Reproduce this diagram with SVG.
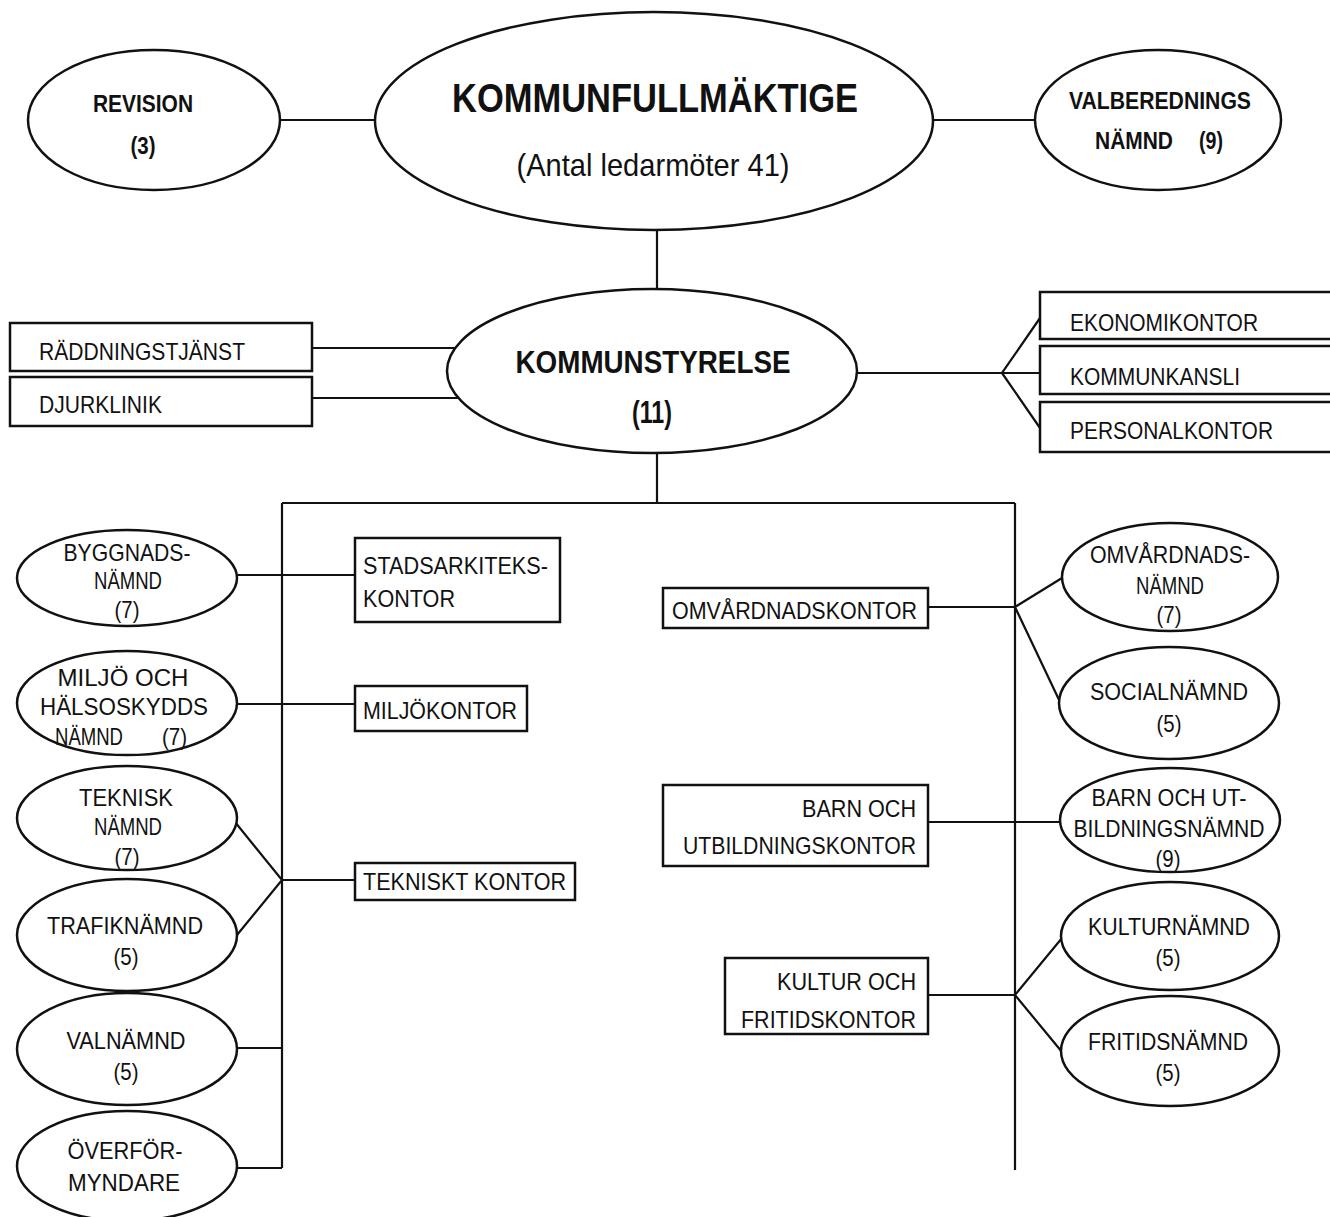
<svg xmlns="http://www.w3.org/2000/svg" width="1330" height="1217" viewBox="0 0 1330 1217">
<style>
.n{fill:#fff;stroke:#111;stroke-width:2.5}
.c{fill:none;stroke:#111;stroke-width:2.2}
text{font-family:"Liberation Sans",Arial,sans-serif;font-size:24px;fill:#111}
.b{font-weight:bold}
.m{text-anchor:middle}
.e{text-anchor:end}
</style>
<rect width="1330" height="1217" fill="#fff"/>
<g id="connectors">
<path class="c" d="M280 120H375M932 120H1035M657 230V290M312 348H458M312 398H458M856 373H1002L1040 318M1002 373H1040M1002 373L1040 428M657 453V503M282 503H1015M282 503V1168M1015 503V1170M237 575H355M237 704H355M235 822L282 880L237 935M282 880H355M237 1048H282M237 1168H282M928 607H1015L1062 578M1015 607L1061 704M928 822H1060M928 995H1015L1062 938M1015 995L1062 1052"/>
</g>
<g id="revision"><ellipse class="n" cx="154" cy="120" rx="126" ry="70"/><text class="b m" x="143" y="112" textLength="100" lengthAdjust="spacingAndGlyphs">REVISION</text><text class="b m" x="143" y="154" textLength="25" lengthAdjust="spacingAndGlyphs">(3)</text></g>
<g id="kommunfullmaktige"><ellipse class="n" cx="654" cy="121" rx="279" ry="109"/><text class="b m" x="655" y="112" style="font-size:40px" textLength="406" lengthAdjust="spacingAndGlyphs">KOMMUNFULLMÄKTIGE</text><text class="m" x="653" y="176" style="font-size:32px" textLength="273" lengthAdjust="spacingAndGlyphs">(Antal ledarmöter 41)</text></g>
<g id="valberedning"><ellipse class="n" cx="1158" cy="120" rx="123" ry="70"/><text class="b m" x="1160" y="109" textLength="182" lengthAdjust="spacingAndGlyphs">VALBEREDNINGS</text><text class="b" y="149"><tspan x="1095" textLength="78" lengthAdjust="spacingAndGlyphs">NÄMND</tspan><tspan x="1199" textLength="24" lengthAdjust="spacingAndGlyphs">(9)</tspan></text></g>
<g id="kommunstyrelse"><ellipse class="n" cx="652" cy="371" rx="205" ry="82"/><text class="b m" x="653" y="373" style="font-size:32px" textLength="275" lengthAdjust="spacingAndGlyphs">KOMMUNSTYRELSE</text><text class="b m" x="652" y="423" style="font-size:32px" textLength="40" lengthAdjust="spacingAndGlyphs">(11)</text></g>
<g id="raddningstjanst"><rect class="n" x="10" y="323" width="302" height="48"/><text x="39" y="360" textLength="206" lengthAdjust="spacingAndGlyphs">RÄDDNINGSTJÄNST</text></g>
<g id="djurklinik"><rect class="n" x="10" y="377" width="302" height="49"/><text x="39" y="413" textLength="123" lengthAdjust="spacingAndGlyphs">DJURKLINIK</text></g>
<g id="ekonomikontor"><rect class="n" x="1040" y="292" width="300" height="47"/><text x="1070" y="331" textLength="188" lengthAdjust="spacingAndGlyphs">EKONOMIKONTOR</text></g>
<g id="kommunkansli"><rect class="n" x="1040" y="346" width="300" height="48"/><text x="1070" y="385" textLength="170" lengthAdjust="spacingAndGlyphs">KOMMUNKANSLI</text></g>
<g id="personalkontor"><rect class="n" x="1040" y="402" width="300" height="50"/><text x="1070" y="439" textLength="203" lengthAdjust="spacingAndGlyphs">PERSONALKONTOR</text></g>
<g id="byggnadsnamnd"><ellipse class="n" cx="127" cy="578" rx="110" ry="48"/><text class="m" x="127" y="561" textLength="127" lengthAdjust="spacingAndGlyphs">BYGGNADS-</text><text class="m" x="128" y="589" textLength="68" lengthAdjust="spacingAndGlyphs">NÄMND</text><text class="m" x="127" y="618" textLength="25" lengthAdjust="spacingAndGlyphs">(7)</text></g>
<g id="stadsarkitekskontor"><rect class="n" x="355" y="538" width="205" height="84"/><text x="363" y="574" textLength="185" lengthAdjust="spacingAndGlyphs">STADSARKITEKS-</text><text x="363" y="607" textLength="92" lengthAdjust="spacingAndGlyphs">KONTOR</text></g>
<g id="miljonamnd"><ellipse class="n" cx="127" cy="703" rx="110" ry="52"/><text class="m" x="123" y="686" textLength="131" lengthAdjust="spacingAndGlyphs">MILJÖ OCH</text><text class="m" x="124" y="715" textLength="168" lengthAdjust="spacingAndGlyphs">HÄLSOSKYDDS</text><text y="745"><tspan x="55" textLength="68" lengthAdjust="spacingAndGlyphs">NÄMND</tspan><tspan x="162" textLength="25" lengthAdjust="spacingAndGlyphs">(7)</tspan></text></g>
<g id="miljokontor"><rect class="n" x="355" y="686" width="172" height="45"/><text x="363" y="719" textLength="154" lengthAdjust="spacingAndGlyphs">MILJÖKONTOR</text></g>
<g id="tekniskNamnd"><ellipse class="n" cx="127" cy="818" rx="110" ry="52"/><text class="m" x="126" y="806" textLength="94" lengthAdjust="spacingAndGlyphs">TEKNISK</text><text class="m" x="128" y="835" textLength="68" lengthAdjust="spacingAndGlyphs">NÄMND</text><text class="m" x="127" y="865" textLength="25" lengthAdjust="spacingAndGlyphs">(7)</text></g>
<g id="trafiknamnd"><ellipse class="n" cx="127" cy="935" rx="110" ry="56"/><text class="m" x="125" y="934" textLength="156" lengthAdjust="spacingAndGlyphs">TRAFIKNÄMND</text><text class="m" x="126" y="965" textLength="25" lengthAdjust="spacingAndGlyphs">(5)</text></g>
<g id="tekniskt_kontor"><rect class="n" x="355" y="863" width="220" height="37"/><text x="363" y="890" textLength="203" lengthAdjust="spacingAndGlyphs">TEKNISKT KONTOR</text></g>
<g id="valnamnd"><ellipse class="n" cx="127" cy="1049" rx="110" ry="56"/><text class="m" x="126" y="1049" textLength="119" lengthAdjust="spacingAndGlyphs">VALNÄMND</text><text class="m" x="126" y="1080" textLength="25" lengthAdjust="spacingAndGlyphs">(5)</text></g>
<g id="overformyndare"><ellipse class="n" cx="127" cy="1166" rx="110" ry="55"/><text class="m" x="125" y="1159" textLength="115" lengthAdjust="spacingAndGlyphs">ÖVERFÖR-</text><text class="m" x="124" y="1191" textLength="112" lengthAdjust="spacingAndGlyphs">MYNDARE</text></g>
<g id="omvardnadskontor"><rect class="n" x="663" y="588" width="265" height="40"/><text x="672" y="619" textLength="245" lengthAdjust="spacingAndGlyphs">OMVÅRDNADSKONTOR</text></g>
<g id="omvardnadsnamnd"><ellipse class="n" cx="1170" cy="577" rx="108" ry="54"/><text class="m" x="1170" y="563" textLength="160" lengthAdjust="spacingAndGlyphs">OMVÅRDNADS-</text><text class="m" x="1170" y="594" textLength="68" lengthAdjust="spacingAndGlyphs">NÄMND</text><text class="m" x="1169" y="623" textLength="25" lengthAdjust="spacingAndGlyphs">(7)</text></g>
<g id="socialnamnd"><ellipse class="n" cx="1169" cy="703" rx="110" ry="56"/><text class="m" x="1169" y="700" textLength="158" lengthAdjust="spacingAndGlyphs">SOCIALNÄMND</text><text class="m" x="1169" y="732" textLength="25" lengthAdjust="spacingAndGlyphs">(5)</text></g>
<g id="barnkontor"><rect class="n" x="663" y="785" width="265" height="81"/><text class="e" x="916" y="817" textLength="114" lengthAdjust="spacingAndGlyphs">BARN OCH</text><text class="e" x="916" y="854" textLength="233" lengthAdjust="spacingAndGlyphs">UTBILDNINGSKONTOR</text></g>
<g id="barnnamnd"><ellipse class="n" cx="1170" cy="820" rx="110" ry="52"/><text class="m" x="1169" y="806" textLength="155" lengthAdjust="spacingAndGlyphs">BARN OCH UT-</text><text class="m" x="1169" y="837" textLength="191" lengthAdjust="spacingAndGlyphs">BILDNINGSNÄMND</text><text class="m" x="1168" y="867" textLength="25" lengthAdjust="spacingAndGlyphs">(9)</text></g>
<g id="kulturkontor"><rect class="n" x="725" y="958" width="203" height="76"/><text class="e" x="916" y="990" textLength="139" lengthAdjust="spacingAndGlyphs">KULTUR OCH</text><text class="e" x="916" y="1028" textLength="175" lengthAdjust="spacingAndGlyphs">FRITIDSKONTOR</text></g>
<g id="kulturnamnd"><ellipse class="n" cx="1170" cy="936" rx="109" ry="54"/><text class="m" x="1169" y="935" textLength="162" lengthAdjust="spacingAndGlyphs">KULTURNÄMND</text><text class="m" x="1168" y="966" textLength="25" lengthAdjust="spacingAndGlyphs">(5)</text></g>
<g id="fritidsnamnd"><ellipse class="n" cx="1170" cy="1051" rx="109" ry="55"/><text class="m" x="1168" y="1050" textLength="160" lengthAdjust="spacingAndGlyphs">FRITIDSNÄMND</text><text class="m" x="1168" y="1081" textLength="25" lengthAdjust="spacingAndGlyphs">(5)</text></g>
</svg>
